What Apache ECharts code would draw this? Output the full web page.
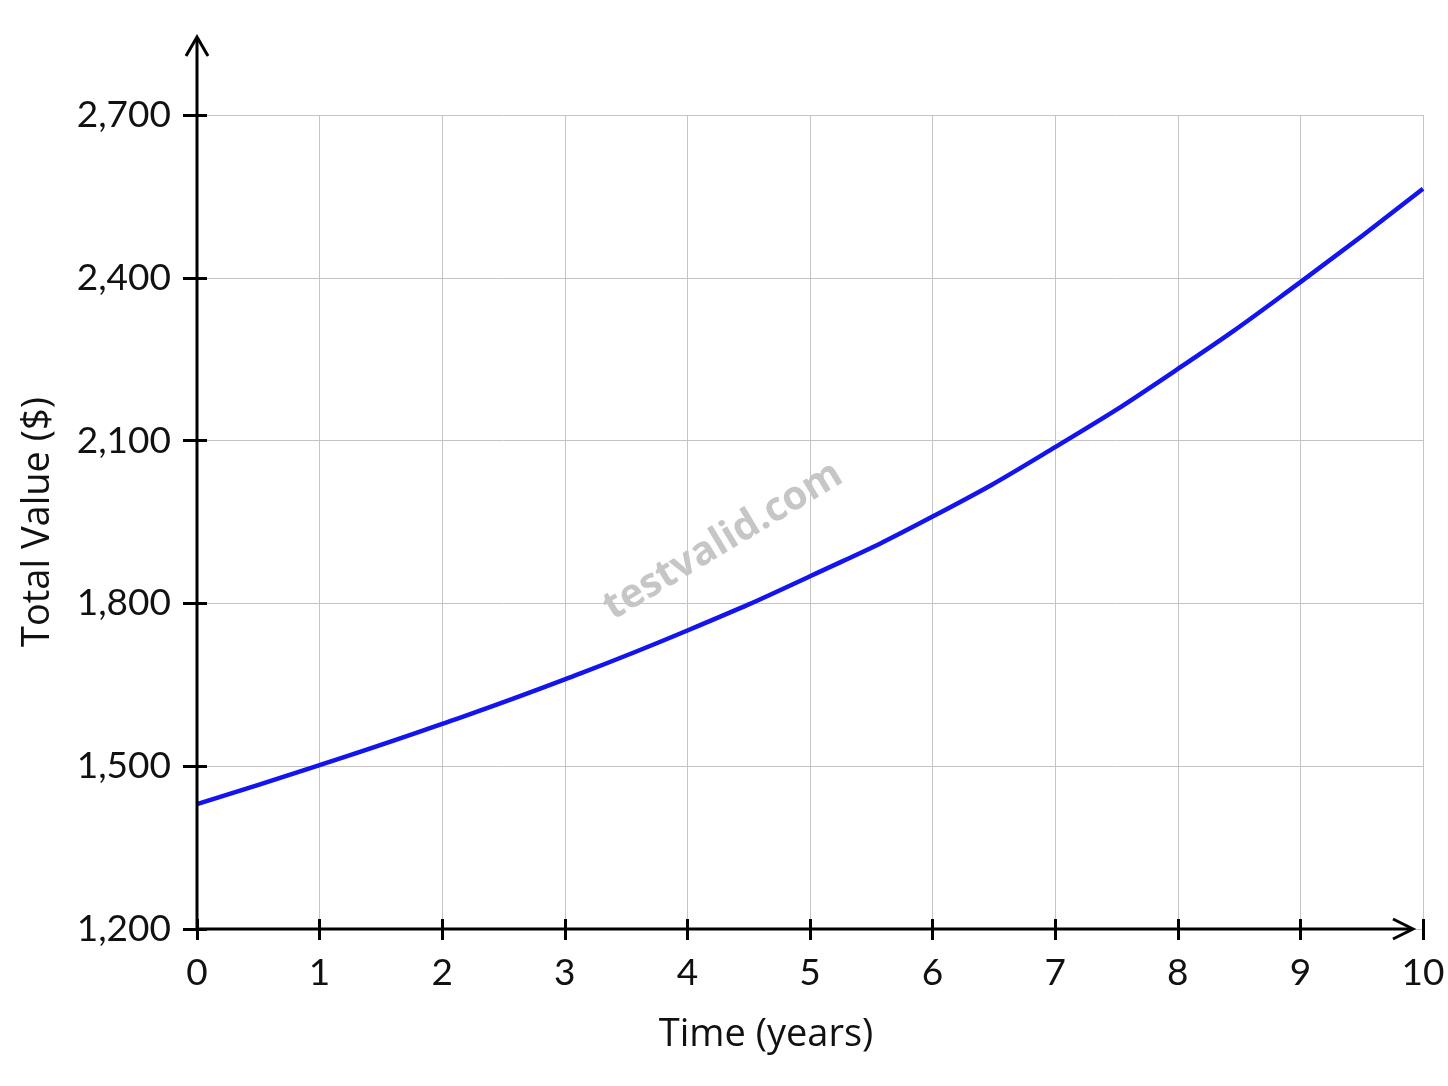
<!DOCTYPE html>
<html lang="en">
<head>
  <meta charset="UTF-8" />
  <script src="https://cdn.jsdelivr.net/npm/echarts@6/dist/echarts.min.js"></script>
  <title>Total Value</title>
  <style>html, body { margin: 0; padding: 0; background: #fff; }</style>
</head>
<body>
  <div id="main" style="width: 1448px; height: 1086px"></div>
  <script type="text/javascript">
    // values
    var years = [0, 1, 2, 3, 4, 5, 6, 7, 8, 9, 10];
    var totalValue = [1430, 1502, 1578, 1660, 1750, 1850, 1960, 2088, 2232, 2392, 2564];
    var yMin = 1200, yMax = 2700, yStep = 300;
    var xMin = 0, xMax = 10, xStep = 1;

    var font = "Lato";
    var titleFont = "Open Sans";
    var ink = "#111";
    var gridColor = "#c4c4c4";

    var myChart = echarts.init(document.querySelector("#main"));

    function fmt(v) {
      return v.toLocaleString("en-US");
    }

    myChart.setOption({
      animation: false,
      grid: { left: 197, right: 25, top: 115, bottom: 157 },
      xAxis: [
        {
          type: "value", min: xMin, max: xMax, interval: xStep,
          name: "Time (years)", nameLocation: "middle", nameGap: 87,
          nameTextStyle: { fontSize: 38, color: ink, fontFamily: titleFont, padding: [0, 88, 0, 0] },
          axisLine: { show: false },
          axisTick: { show: true, length: 11, lineStyle: { color: "#000", width: 3 } },
          axisLabel: { fontSize: 37, color: ink, fontFamily: font, margin: 26 },
          splitLine: { show: true, lineStyle: { color: gridColor, width: 1 } }
        },
        {
          // second axis only for the tick half above the line
          type: "value", min: xMin, max: xMax, interval: xStep, position: "bottom",
          axisLine: { show: false },
          axisTick: { show: true, inside: true, length: 10, lineStyle: { color: "#000", width: 3 } },
          axisLabel: { show: false },
          splitLine: { show: false }
        }
      ],
      yAxis: [
        {
          type: "value", min: yMin, max: yMax, interval: yStep,
          name: "Total Value ($)", nameLocation: "middle", nameGap: 140,
          nameTextStyle: { fontSize: 38, color: ink, fontFamily: titleFont },
          axisLine: { show: false },
          axisTick: { show: true, length: 14, lineStyle: { color: "#000", width: 3 } },
          axisLabel: { fontSize: 37, color: ink, fontFamily: font, margin: 26, formatter: fmt },
          splitLine: { show: true, lineStyle: { color: gridColor, width: 1 } }
        },
        {
          type: "value", min: yMin, max: yMax, interval: yStep, position: "left",
          axisLine: { show: false },
          axisTick: { show: true, inside: true, length: 10, lineStyle: { color: "#000", width: 3 } },
          axisLabel: { show: false },
          splitLine: { show: false }
        }
      ],
      series: [
        {
          type: "line",
          smooth: true,
          showSymbol: false,
          lineStyle: { color: "#1414ee", width: 4.5 },
          data: years.map(function (x, i) { return [x, totalValue[i]]; })
        }
      ]
    });

    // axis lines with open arrow heads, placed from the chart's own scale
    var o = myChart.convertToPixel({ gridIndex: 0 }, [xMin, yMin]);
    var t = myChart.convertToPixel({ gridIndex: 0 }, [xMin, yMax]);
    var r = myChart.convertToPixel({ gridIndex: 0 }, [xMax, yMin]);
    var yTip = t[1] - 78, xTip = r[0] - 10;
    var axisStyle = { stroke: "#000", lineWidth: 3, fill: null };

    myChart.setOption({
      graphic: [
        { type: "line", shape: { x1: o[0], y1: o[1], x2: o[0], y2: yTip + 1 }, style: axisStyle, z: 10 },
        { type: "polyline", shape: { points: [[o[0] - 11, yTip + 19], [o[0], yTip], [o[0] + 11, yTip + 19]] }, style: axisStyle, z: 10 },
        { type: "line", shape: { x1: o[0], y1: o[1], x2: xTip - 1, y2: o[1] }, style: axisStyle, z: 10 },
        { type: "polyline", shape: { points: [[xTip - 20, o[1] - 10], [xTip, o[1]], [xTip - 20, o[1] + 10]] }, style: axisStyle, z: 10 },
        {
          type: "text", x: 723, y: 541, rotation: 31 * Math.PI / 180, z: 5,
          style: {
            text: "testvalid.com", fill: "#c6c6c6", font: "bold 40px " + titleFont,
            textAlign: "center", textVerticalAlign: "middle"
          }
        }
      ]
    });
  </script>
</body>
</html>
